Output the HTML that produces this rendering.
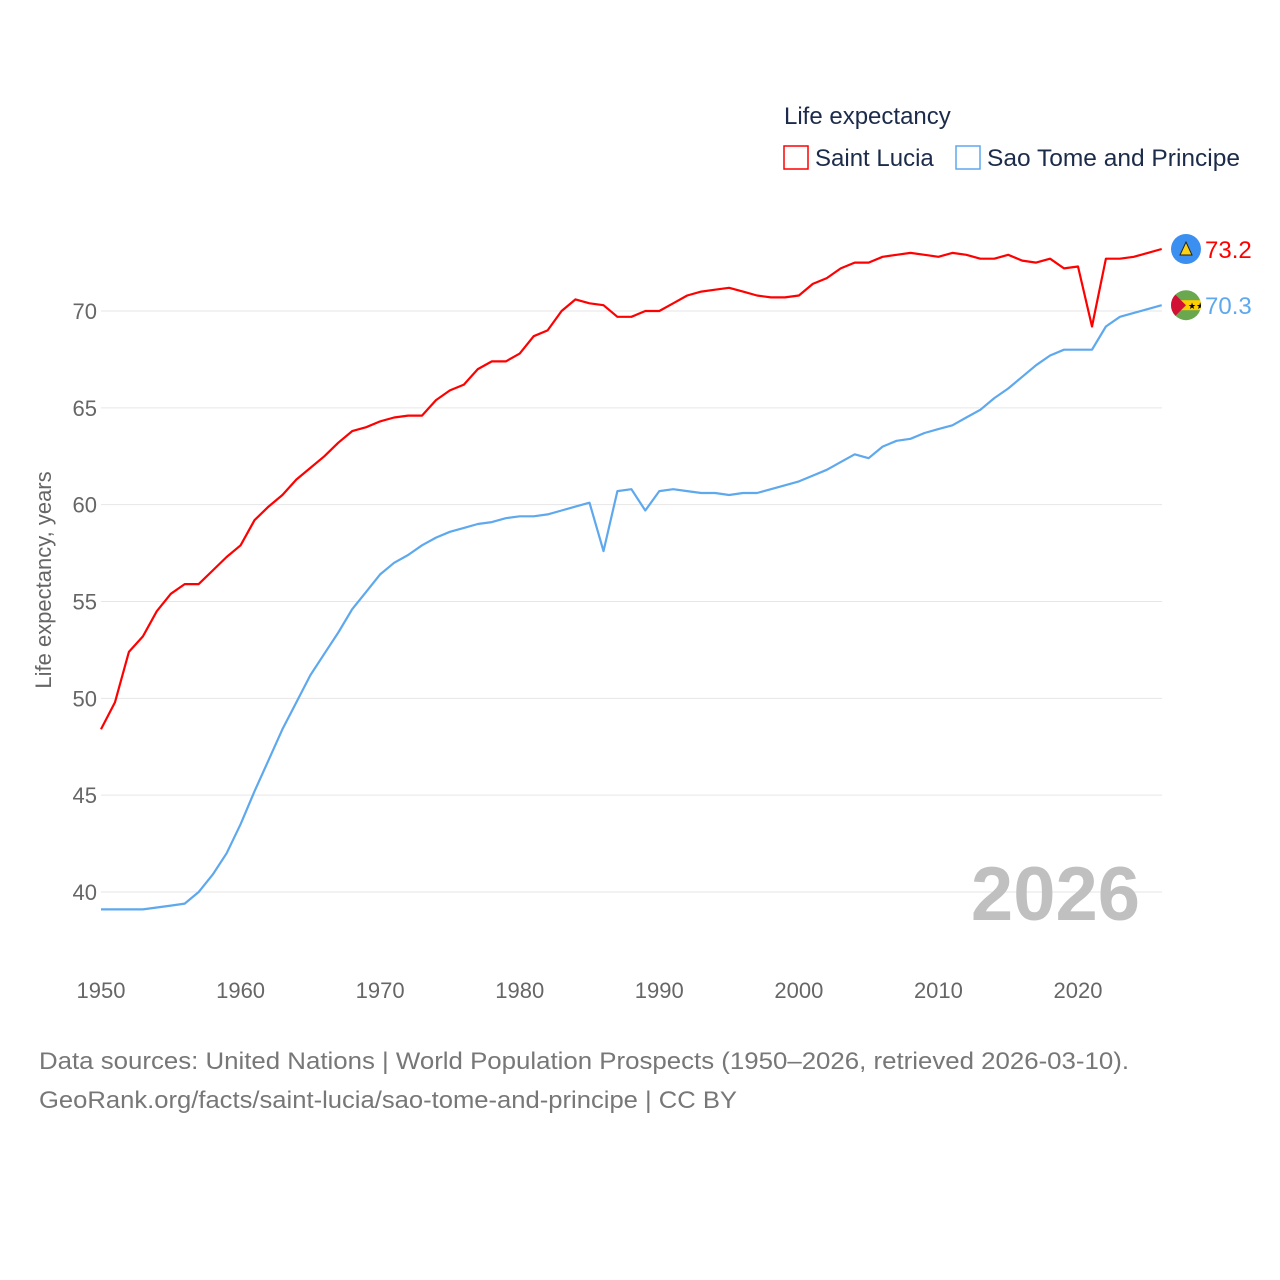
<!DOCTYPE html>
<html><head><meta charset="utf-8"><style>
html,body{margin:0;padding:0;background:#fff;}
svg{display:block;font-family:"Liberation Sans",sans-serif;}
</style></head><body>
<svg id="chart" width="1280" height="1280" viewBox="0 0 1280 1280">
  <g id="grid"></g>
  <g id="yticks"></g>
  <g id="xticks"></g>
  <text transform="translate(51,580) rotate(-90)" text-anchor="middle" font-size="22" fill="#666">Life expectancy, years</text>
  <text x="1140" y="920" text-anchor="end" font-size="76" font-weight="bold" fill="#c0c0c0">2026</text>
  <g id="series"></g>
  <g>
    <text x="784" y="124" font-size="24" fill="#1c2b4a">Life expectancy</text>
    <rect x="784" y="146" width="24" height="23" fill="none" stroke="#ff0000" stroke-width="1.5"/>
    <text x="815" y="166" font-size="24" fill="#1c2b4a">Saint Lucia</text>
    <rect x="956" y="146" width="24" height="23" fill="none" stroke="#5ea8ee" stroke-width="1.5"/>
    <text x="987" y="166" font-size="24" fill="#1c2b4a" textLength="253" lengthAdjust="spacingAndGlyphs">Sao Tome and Principe</text>
  </g>
  <g id="ends"></g>
  <text x="39" y="1069" font-size="24" fill="#777" textLength="1090" lengthAdjust="spacingAndGlyphs">Data sources: United Nations | World Population Prospects (1950–2026, retrieved 2026-03-10).</text>
  <text x="39" y="1108" font-size="24" fill="#777" textLength="698" lengthAdjust="spacingAndGlyphs">GeoRank.org/facts/saint-lucia/sao-tome-and-principe | CC BY</text>
</svg>
<script>
const years = [];
for (let y = 1950; y <= 2026; y++) years.push(y);
const saintLucia = [48.4,49.8,52.4,53.2,54.5,55.4,55.9,55.9,56.6,57.3,57.9,59.2,59.9,60.5,61.3,61.9,62.5,63.2,63.8,64.0,64.3,64.5,64.6,64.6,65.4,65.9,66.2,67.0,67.4,67.4,67.8,68.7,69.0,70.0,70.6,70.4,70.3,69.7,69.7,70.0,70.0,70.4,70.8,71.0,71.1,71.2,71.0,70.8,70.7,70.7,70.8,71.4,71.7,72.2,72.5,72.5,72.8,72.9,73.0,72.9,72.8,73.0,72.9,72.7,72.7,72.9,72.6,72.5,72.7,72.2,72.3,69.2,72.7,72.7,72.8,73.0,73.2];
const saoTome = [39.1,39.1,39.1,39.1,39.2,39.3,39.4,40.0,40.9,42.0,43.5,45.2,46.8,48.4,49.8,51.2,52.3,53.4,54.6,55.5,56.4,57.0,57.4,57.9,58.3,58.6,58.8,59.0,59.1,59.3,59.4,59.4,59.5,59.7,59.9,60.1,57.6,60.7,60.8,59.7,60.7,60.8,60.7,60.6,60.6,60.5,60.6,60.6,60.8,61.0,61.2,61.5,61.8,62.2,62.6,62.4,63.0,63.3,63.4,63.7,63.9,64.1,64.5,64.9,65.5,66.0,66.6,67.2,67.7,68.0,68.0,68.0,69.2,69.7,69.9,70.1,70.3];
const yTicks = [40,45,50,55,60,65,70];
const xTicks = [1950,1960,1970,1980,1990,2000,2010,2020];

const NS = "http://www.w3.org/2000/svg";
const xS = v => 101 + (v - 1950) * (977 / 70);
const yS = v => 311 + (70 - v) * (581 / 30);
function mk(tag, attrs, parent) {
  const e = document.createElementNS(NS, tag);
  for (const k in attrs) e.setAttribute(k, attrs[k]);
  parent.appendChild(e);
  return e;
}
const grid = document.getElementById('grid'), yt = document.getElementById('yticks'), xt = document.getElementById('xticks');
yTicks.forEach(t => {
  const l = mk('line', {x1:101, x2:1162, y1:yS(t), y2:yS(t), stroke:'#e6e6e6', 'stroke-width':1}, grid);
  
  
  const tx = mk('text', {x:97, y:yS(t)+8, 'text-anchor':'end', 'font-size':22, fill:'#666'}, yt);
  tx.textContent = t;
  
  
});
xTicks.forEach(t => {
  const tx = mk('text', {x:xS(t), y:998, 'text-anchor':'middle', 'font-size':22, fill:'#666'}, xt);
  tx.textContent = t;
  
  
});
const ser = document.getElementById('series');
function line(vals, color, name) {
  const d = vals.map((v,i) => (i ? 'L' : 'M') + xS(years[i]).toFixed(1) + ',' + yS(v).toFixed(1)).join('');
  const p = mk('path', {d:d, fill:'none', stroke:color, 'stroke-width':2.2, 'stroke-linejoin':'round'}, ser);
  
  
}
line(saoTome, '#5ea8ee', 'line-sao-tome');
line(saintLucia, '#ff0000', 'line-saint-lucia');

const ends = document.getElementById('ends');
const last = years.length - 1;
const sly = yS(saintLucia[last]);
const c1 = mk('circle', {cx:1186, cy:sly, r:15, fill:'#3b8ff0'}, ends);


mk('polygon', {points:`1186,${sly-7} 1180,${sly+6} 1192,${sly+6}`, fill:'#fcd116', stroke:'#222', 'stroke-width':1}, ends);
const t1 = mk('text', {x:1205, y:sly+9, 'font-size':24, fill:'#ff0000'}, ends);
t1.textContent = saintLucia[last].toFixed(1);


const sty = yS(saoTome[last]);
const cpth = mk('clipPath', {id:'fc'}, ends);
mk('circle', {cx:1186, cy:sty, r:15}, cpth);
const fg = mk('g', {'clip-path':'url(#fc)'}, ends);


mk('rect', {x:1170, y:sty-16, width:32, height:32, fill:'#6aa84f'}, fg);
mk('rect', {x:1170, y:sty-5, width:32, height:10, fill:'#ffce00'}, fg);
mk('polygon', {points:`1170,${sty-16} 1186,${sty} 1170,${sty+16}`, fill:'#d21034'}, fg);
mk('text', {x:1188, y:sty+4, 'font-size':9, fill:'#000'}, fg).textContent = '★★';
const t2 = mk('text', {x:1205, y:sty+9, 'font-size':24, fill:'#5ea8ee'}, ends);
t2.textContent = saoTome[last].toFixed(1);


</script>
</body></html>
